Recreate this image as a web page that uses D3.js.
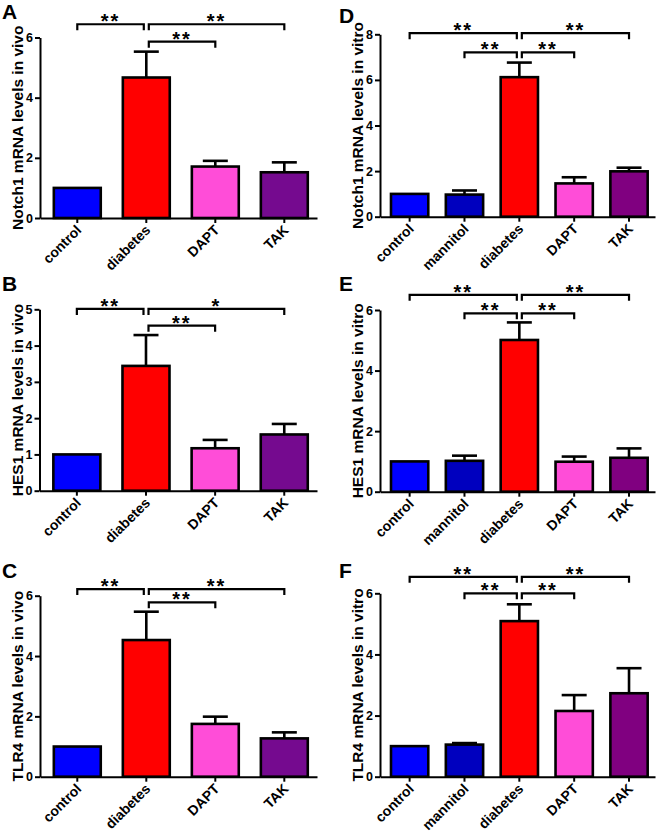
<!DOCTYPE html>
<html>
<head>
<meta charset="utf-8">
<script src="https://cdn.jsdelivr.net/npm/d3@7"></script>
<style>
  html, body { margin: 0; padding: 0; background: #fff; }
  svg { display: block; }
  svg text { font-family: "Liberation Sans", Arial, sans-serif; font-weight: bold; fill: #000; }
</style>
</head>
<body>
<svg id="chart" width="660" height="837"></svg>
<script>
// ---------- DATA ----------
const categoriesVivo = ["control", "diabetes", "DAPT", "TAK"];
const categoriesVitro = ["control", "mannitol", "diabetes", "DAPT", "TAK"];

const colorsVivo = ["#0000FF", "#FF0000", "#FF4DD8", "#750A8F"];
const colorsVitro = ["#0000FF", "#0000BF", "#FF0000", "#FF4DD8", "#800080"];

// Panel A: Notch1 in vivo
const notch1VivoMean = [1.00, 4.67, 1.71, 1.52];
const notch1VivoErr  = [0.00, 0.86, 0.19, 0.33];
// Panel B: HES1 in vivo
const hes1VivoMean = [1.00, 3.44, 1.17, 1.55];
const hes1VivoErr  = [0.00, 0.85, 0.23, 0.29];
// Panel C: TLR4 in vivo
const tlr4VivoMean = [1.00, 4.53, 1.75, 1.27];
const tlr4VivoErr  = [0.00, 0.94, 0.24, 0.20];
// Panel D: Notch1 in vitro
const notch1VitroMean = [1.00, 0.97, 6.12, 1.46, 1.99];
const notch1VitroErr  = [0.00, 0.18, 0.64, 0.27, 0.16];
// Panel E: HES1 in vitro
const hes1VitroMean = [1.00, 1.02, 5.01, 0.99, 1.12];
const hes1VitroErr  = [0.00, 0.17, 0.58, 0.17, 0.31];
// Panel F: TLR4 in vitro
const tlr4VitroMean = [1.00, 1.05, 5.09, 2.15, 2.73];
const tlr4VitroErr  = [0.00, 0.05, 0.55, 0.52, 0.82];

// Y tick labels
const ticksA = [0, 2, 4, 6];
const ticksB = [0, 1, 2, 3, 4, 5];
const ticksC = [0, 2, 4, 6];
const ticksD = [0, 2, 4, 6, 8];
const ticksE = [0, 2, 4, 6];
const ticksF = [0, 2, 4, 6];

// Significance comparisons: [fromIndex, toIndex, label, level(1=upper,2=lower)]
const compA = [[0, 1, "**", 1], [1, 3, "**", 1], [1, 2, "**", 2]];
const compB = [[0, 1, "**", 1], [1, 3, "*", 1], [1, 2, "**", 2]];
const compC = [[0, 1, "**", 1], [1, 3, "**", 1], [1, 2, "**", 2]];
const compVitro = [[0, 2, "**", 1], [2, 4, "**", 1], [1, 2, "**", 2], [2, 3, "**", 2]];

// Bracket heights in axis units [upper, lower]
const bracketA = [6.44, 5.86];
const bracketB = [5.01, 4.55];
const bracketC = [6.22, 5.78];
const bracketD = [8.05, 7.21];
const bracketE = [6.50, 5.89];
const bracketF = [6.54, 6.00];

// ---------- LAYOUT ----------
const panels = [
  { letter: "A", lx: 2, ly: 18.5, x0: 40, x1: 317, yb: 218, yt: 37.5, cats: categoriesVivo, colors: colorsVivo,
    mean: notch1VivoMean, err: notch1VivoErr, ticks: ticksA, comps: compA, brk: bracketA, label: "Notch1 mRNA levels in vivo" },
  { letter: "B", lx: 2, ly: 291, x0: 39.5, x1: 317, yb: 490.7, yt: 309.3, cats: categoriesVivo, colors: colorsVivo,
    mean: hes1VivoMean, err: hes1VivoErr, ticks: ticksB, comps: compB, brk: bracketB, label: "HES1 mRNA levels in vivo" },
  { letter: "C", lx: 2, ly: 578, x0: 40, x1: 317, yb: 776.7, yt: 595.7, cats: categoriesVivo, colors: colorsVivo,
    mean: tlr4VivoMean, err: tlr4VivoErr, ticks: ticksC, comps: compC, brk: bracketC, label: "TLR4 mRNA levels in vivo" },
  { letter: "D", lx: 339, ly: 23, x0: 380, x1: 655, yb: 216.7, yt: 34.3, cats: categoriesVitro, colors: colorsVitro,
    mean: notch1VitroMean, err: notch1VitroErr, ticks: ticksD, comps: compVitro, brk: bracketD, label: "Notch1 mRNA levels in vitro" },
  { letter: "E", lx: 339, ly: 291, x0: 380, x1: 655, yb: 491.7, yt: 310, cats: categoriesVitro, colors: colorsVitro,
    mean: hes1VitroMean, err: hes1VitroErr, ticks: ticksE, comps: compVitro, brk: bracketE, label: "HES1 mRNA levels in vitro" },
  { letter: "F", lx: 339, ly: 578, x0: 380, x1: 655, yb: 776.7, yt: 593.3, cats: categoriesVitro, colors: colorsVitro,
    mean: tlr4VitroMean, err: tlr4VitroErr, ticks: ticksF, comps: compVitro, brk: bracketF, label: "TLR4 mRNA levels in vitro" }
];

const svg = d3.select("#chart");

panels.forEach(p => {
  const g = svg.append("g");
  const x = d3.scaleBand().domain(p.cats).range([p.x0, p.x1])
    .paddingInner(0.32).paddingOuter(0.167).align(0.6);
  const ymax = p.ticks[p.ticks.length - 1];
  const y = d3.scaleLinear().domain([0, ymax]).range([p.yb, p.yt]);
  const cxOf = c => x(c) + x.bandwidth() / 2;

  const rows = p.cats.map((c, i) => ({ c, m: p.mean[i], e: p.err[i], col: p.colors[i] }));

  // error bars (upper only)
  const eg = g.append("g").attr("stroke", "#000").attr("stroke-width", 2.6).attr("fill", "none");
  rows.filter(d => d.e > 0).forEach(d => {
    const cx = cxOf(d.c);
    eg.append("line").attr("x1", cx).attr("x2", cx).attr("y1", y(d.m)).attr("y2", y(d.m + d.e));
    eg.append("line").attr("x1", cx - 12.5).attr("x2", cx + 12.5).attr("y1", y(d.m + d.e)).attr("y2", y(d.m + d.e));
  });

  // bars
  g.append("g").selectAll("rect").data(rows).join("rect")
    .attr("x", d => x(d.c))
    .attr("width", x.bandwidth())
    .attr("y", d => y(d.m))
    .attr("height", d => y(0) - y(d.m))
    .attr("fill", d => d.col)
    .attr("stroke", "#000")
    .attr("stroke-width", 2.6);

  // y axis
  const yAxisG = g.append("g").attr("transform", `translate(${p.x0},0)`);
  yAxisG.call(d3.axisLeft(y).tickValues(p.ticks).tickSize(5).tickPadding(2).tickSizeOuter(0).tickFormat(d3.format("d")));
  yAxisG.attr("stroke-width", 2).attr("font-size", 12.5).attr("color", "#000");

  // x axis (ticks + line)
  const xAxisG = g.append("g").attr("transform", `translate(0,${p.yb})`);
  xAxisG.call(d3.axisBottom(x).tickSize(5).tickSizeOuter(0).tickFormat(() => ""));
  xAxisG.attr("stroke-width", 2).attr("color", "#000");

  // x category labels, rotated 45 degrees
  g.append("g").selectAll("g").data(p.cats).join("g")
    .attr("transform", c => `translate(${cxOf(c) + 5},${p.yb + 13}) rotate(-45)`)
    .append("text")
    .attr("text-anchor", "end")
    .attr("font-size", 14)
    .text(c => c);

  // y label
  g.append("text")
    .attr("transform", `translate(${p.x0 - 17},${(p.yb + p.yt) / 2}) rotate(-90)`)
    .attr("text-anchor", "middle")
    .attr("font-size", 15.5)
    .text(p.label);

  // panel letter
  g.append("text").attr("x", p.lx).attr("y", p.ly).attr("font-size", 21).text(p.letter);

  // significance brackets
  const bg = g.append("g");
  const diabIdx = p.cats.indexOf("diabetes");
  p.comps.forEach(([a, b, labTxt, lvl]) => {
    let xa1 = cxOf(p.cats[a]);
    let xb1 = cxOf(p.cats[b]);
    if (a === diabIdx) xa1 += 2.5;
    if (b === diabIdx) xb1 -= 2.5;
    const yy = y(p.brk[lvl - 1]);
    bg.append("path")
      .attr("d", `M${xa1},${yy + 6}V${yy}H${xb1}V${yy + 6}`)
      .attr("fill", "none").attr("stroke", "#000").attr("stroke-width", 2.2);
    bg.append("text")
      .attr("x", (xa1 + xb1) / 2).attr("y", yy + 4)
      .attr("text-anchor", "middle")
      .attr("font-size", 20)
      .attr("letter-spacing", 2)
      .text(labTxt);
  });
});
</script>
</body>
</html>
